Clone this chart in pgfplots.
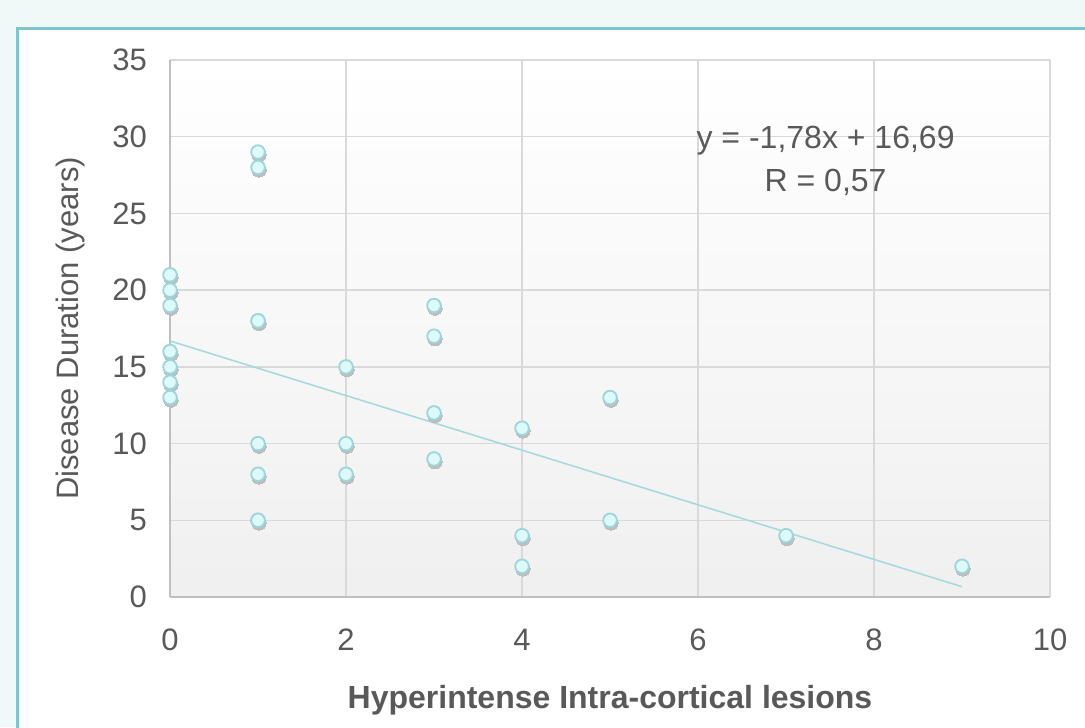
\documentclass[border=0pt]{standalone}
\usepackage{pgfplots}
\pgfplotsset{compat=1.18}
\usepackage{pgfplotstable}
\usepackage{fontspec}
\setmainfont{Liberation Sans}

\definecolor{outerbg}{HTML}{F0F8F8}
\definecolor{panelline}{HTML}{7CC7CB}
\definecolor{txt}{HTML}{595959}
\definecolor{gridc}{HTML}{D9D9D9}
\definecolor{axisc}{HTML}{BFBFBF}
\definecolor{mkfill}{HTML}{DDFAFB}
\definecolor{mkdraw}{HTML}{9DD5DA}
\definecolor{trend}{HTML}{A6DADF}
\definecolor{shadowc}{HTML}{BDBDBD}

% lesions vs. disease duration
\pgfplotstableread{
x y
0 21
0 20
0 19
0 16
0 15
0 14
0 13
1 29
1 28
1 18
1 18
1 10
1 8
1 5
1 5
2 15
2 10
2 8
3 19
3 17
3 12
3 9
4 11
4 4
4 2
5 13
5 5
7 4
9 2
}\lesions

\pgfplotstableread{
x y
0 16.69
9 0.67
}\trendline

\begin{document}
\begin{tikzpicture}
\fill[outerbg] (0,0) rectangle (542.5pt,363.5pt);
\useasboundingbox (0,0) rectangle (542.5pt,363.5pt);
\filldraw[fill=white, draw=panelline, line width=1.5pt] (8.5pt,-10pt) rectangle (570pt,349pt);
\begin{axis}[
	at={(85pt,65pt)}, anchor=south west,
	scale only axis, width=440pt, height=268.5pt,
	xmin=0, xmax=10, ymin=0, ymax=35,
	xtick={0,2,...,10}, ytick={0,5,...,35},
	axis lines*=left, axis line style={draw=axisc, line width=0.8pt},
	major tick length=0pt,
	grid=major, grid style={draw=gridc, line width=0.7pt},
	axis background/.style={shade, top color=white, middle color=white, bottom color=gray!12},
	/pgf/number format/assume math mode=true,
	tick label style={font=\fontsize{15.5}{18}\selectfont, text=txt},
	xticklabel style={anchor=center, yshift=-21.5pt},
	yticklabel style={anchor=east, xshift=-8pt},
	xlabel={Hyperintense Intra-cortical lesions},
	ylabel={Disease Duration (years)},
	every axis x label/.style={at={(axis description cs:0.5,0)}, anchor=center, yshift=-51.5pt,
		font=\fontsize{16}{18}\selectfont\bfseries, text=txt},
	every axis y label/.style={at={(axis description cs:0,0.5)}, rotate=90, anchor=center, yshift=50pt,
		font=\fontsize{15.5}{18}\selectfont, text=txt},
	clip=false,
]
\addplot[draw=trend, line width=0.8pt, no marks] table {\trendline};
\addplot[color=shadowc, only marks, mark=*, mark size=3.6pt,
	mark options={draw=shadowc, fill=shadowc, line width=0pt, xshift=0.5pt, yshift=-1.3pt}] table {\lesions};
\addplot[color=mkdraw, only marks, mark=*, mark size=3.4pt,
	mark options={draw=mkdraw, fill=mkfill, line width=0.9pt}] table {\lesions};
\node[align=center, text=txt, font=\fontsize{16}{21.5}\selectfont] at (axis cs:7.45,28.4)
	{y = -1,78x + 16,69\\R = 0,57};
\end{axis}
\end{tikzpicture}
\end{document}
